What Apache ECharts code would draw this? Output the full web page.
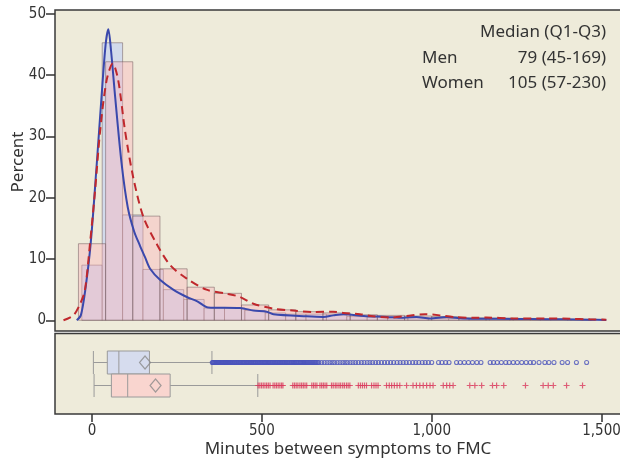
<!DOCTYPE html>
<html>
<head>
<meta charset="utf-8">
<script src="https://cdn.jsdelivr.net/npm/echarts@6/dist/echarts.min.js"></script>
<style>
  html, body { margin: 0; padding: 0; background: #fff; }
  #root { width: 620px; height: 460px; }
</style>
</head>
<body>
<div id="root"></div>
<script>
// histogram bins (minutes) and percent per bin
const menBinStart = -30
const menBinWidth = 60
const menPct = [9.0, 45.3, 17.2, 8.3, 5.0, 3.4, 2.0, 2.0, 1.6, 1.2, 1.0, 1.0, 0.9, 0.6, 0.5, 0.4, 0.4, 0.3, 0.3, 0.2, 0.2, 0.2, 0.1, 0.1, 0.1]
const womenBinStart = -40
const womenBinWidth = 80
const womenPct = [12.5, 42.2, 17.0, 8.4, 5.4, 4.4, 2.5, 1.7, 1.4, 1.2, 0.9, 0.8, 0.7, 0.6, 0.4, 0.35, 0.3, 0.2, 0.15]

// density curves: [minutes, percent]
const menCurve = [[-45, 0], [-33, 0.8], [-20, 4.9], [-4, 12.5], [14, 25.6], [28, 36.5], [40, 45], [48, 47.5], [56, 44], [68, 36.5], [87, 25.6], [105, 18.5], [124, 14.5], [141, 12.2], [156, 10.3], [171, 8.4], [200, 6.6], [239, 5.0], [279, 3.8], [310, 3.1], [342, 2.1], [436, 2.0], [475, 1.6], [514, 1.4], [534, 1.0], [632, 0.65], [681, 0.55], [710, 0.8], [740, 1.0], [800, 0.7], [867, 0.55], [916, 0.4], [955, 0.55], [995, 0.3], [1044, 0.55], [1092, 0.3], [1191, 0.25], [1289, 0.2], [1387, 0.15], [1465, 0.1], [1514, 0.05]]
const womenCurve = [[-84, 0], [-55, 0.8], [-35, 2.7], [-21, 4.9], [-6, 12.5], [9, 21.2], [24, 31], [43, 39.2], [61, 41.9], [77, 39.2], [97, 31], [121, 23.4], [151, 16.9], [190, 12.5], [230, 9.0], [279, 6.8], [337, 5.0], [396, 4.35], [436, 3.8], [475, 2.7], [534, 1.9], [592, 1.6], [651, 1.35], [710, 1.4], [740, 1.2], [789, 1.0], [828, 0.65], [877, 0.45], [926, 0.7], [980, 1.0], [1024, 0.8], [1063, 0.55], [1122, 0.4], [1161, 0.45], [1240, 0.3], [1338, 0.3], [1407, 0.25], [1465, 0.15], [1514, 0.1]]

// box plots: [min, Q1, median, Q3, max] and means
const groups = ['Men', 'Women']
const boxStats = [[4, 45, 79, 169, 353], [6, 57, 105, 230, 488]]
const means = [156, 187]
const menOutliers = [354, 356, 357, 359, 361, 362, 364, 366, 368, 370, 372, 373, 375, 377, 379, 381, 383, 385, 386, 388, 390, 392, 393, 395, 397, 399, 401, 403, 404, 406, 408, 410, 413, 415, 418, 420, 422, 425, 427, 429, 431, 434, 436, 438, 441, 443, 446, 448, 450, 453, 455, 457, 460, 462, 464, 467, 469, 471, 474, 476, 479, 481, 483, 486, 488, 491, 493, 496, 498, 501, 503, 506, 508, 510, 512, 515, 517, 520, 522, 525, 527, 530, 532, 535, 537, 540, 542, 545, 547, 550, 552, 555, 557, 560, 562, 565, 567, 570, 572, 575, 577, 580, 583, 586, 588, 591, 593, 596, 598, 601, 603, 606, 609, 612, 614, 617, 620, 623, 625, 628, 631, 634, 637, 640, 643, 646, 649, 652, 655, 658, 661, 665, 668,
  676, 684, 692, 700, 707, 714, 722, 730, 738, 745, 752, 760, 768, 776, 784, 793, 801, 810, 818, 826, 835, 843, 852, 861, 870, 879, 888, 898, 907, 916, 925, 934, 944, 953, 962, 972, 981, 990, 1000, 1020, 1030, 1041, 1051, 1073, 1084, 1096, 1108, 1120, 1133, 1145,
  1172, 1182, 1193, 1205, 1218, 1228, 1240, 1252, 1265, 1278, 1290, 1300, 1316, 1333, 1345, 1360, 1384, 1400, 1426, 1456]
const womenOutliers = [489, 494, 499, 504, 509, 514, 519, 524, 533, 538, 543, 548, 553, 558, 562, 591, 596, 601, 606, 612, 617, 622, 627, 632, 647, 652, 657, 662, 671, 676, 681, 686, 691,
  705, 710, 716, 721, 727, 732, 738, 743, 749, 754, 759, 784, 790, 796, 802, 808, 823, 830, 836, 842, 867, 875, 882, 890, 898, 906, 926, 945, 955, 965, 975, 985, 995, 1004,
  1034, 1044, 1053, 1063, 1112, 1127, 1147, 1179, 1191, 1212, 1276, 1328, 1343, 1358, 1397, 1444]

const xTicks = [0, 500, 1000, 1500]
const yTicks = [0, 10, 20, 30, 40, 50]

const tickFont = "'Liberation Sans Narrow', 'DejaVu Sans Condensed', sans-serif"
const textFont = "'Noto Sans', 'Liberation Sans', sans-serif"
const bg = '#eeebda'
const xMin = -109
const xMax = 1569

function bins (start, width, pct) {
  return pct.map((p, i) => [start + i * width, start + (i + 1) * width, p])
}

function barSeries (data, fill) {
  return {
    type: 'custom',
    xAxisIndex: 0,
    yAxisIndex: 0,
    data: data,
    encode: { x: [0, 1], y: 2 },
    clip: true,
    silent: true,
    renderItem: function (params, api) {
      const p0 = api.coord([api.value(0), 0])
      const p1 = api.coord([api.value(1), api.value(2)])
      return {
        type: 'rect',
        shape: { x: p0[0], y: p1[1], width: p1[0] - p0[0], height: p0[1] - p1[1] },
        style: { fill: fill, stroke: 'rgba(110,85,90,0.5)', lineWidth: 1 }
      }
    }
  }
}

const chart = echarts.init(document.getElementById('root'))

const hiddenX = { type: 'value', min: xMin, max: xMax, show: false }
const gridBase = { left: 55, width: 570, outerBoundsMode: 'none', containLabel: false }

const option = {
  animation: false,
  backgroundColor: '#fff',
  grid: [
    Object.assign({ top: 10, height: 321, show: true, backgroundColor: bg, borderColor: '#3a3a3a', borderWidth: 1.5 }, gridBase),
    Object.assign({ top: 333.5, height: 80.5, show: true, backgroundColor: bg, borderColor: '#3a3a3a', borderWidth: 1.5 }, gridBase),
    Object.assign({ top: 351, height: 46, show: false }, gridBase)
  ],
  xAxis: [
    Object.assign({ gridIndex: 0 }, hiddenX),
    {
      gridIndex: 1,
      type: 'value',
      min: xMin,
      max: xMax,
      splitLine: { show: false },
      axisLine: { show: false, onZero: false },
      axisTick: { show: true, length: 8, customValues: xTicks, lineStyle: { color: '#333', width: 1.5 } },
      axisLabel: {
        customValues: xTicks,
        margin: 10,
        color: '#333',
        fontSize: 15,
        fontFamily: tickFont,
        formatter: v => v.toLocaleString('en-US')
      }
    },
    Object.assign({ gridIndex: 2 }, hiddenX)
  ],
  yAxis: [
    {
      gridIndex: 0,
      type: 'value',
      min: -1.75,
      max: 50.65,
      splitLine: { show: false },
      axisLine: { show: false, onZero: false },
      axisTick: { show: true, length: 9, customValues: yTicks, lineStyle: { color: '#333', width: 1.5 } },
      axisLabel: { customValues: yTicks, margin: 9, color: '#333', fontSize: 15, fontFamily: tickFont }
    },
    { gridIndex: 1, type: 'value', min: 0, max: 1, show: false },
    { gridIndex: 2, type: 'category', data: groups, inverse: true, show: false }
  ],
  graphic: [
    { type: 'text', x: 18, y: 162, rotation: Math.PI / 2, style: { text: 'Percent', font: '17px ' + textFont, fill: '#333', align: 'center', verticalAlign: 'middle' } },
    { type: 'text', x: 348, y: 449, style: { text: 'Minutes between symptoms to FMC', font: '17px ' + textFont, fill: '#333', align: 'center', verticalAlign: 'middle' } },
    { type: 'text', x: 606, y: 32, style: { text: 'Median (Q1-Q3)', font: '17px ' + textFont, fill: '#333', align: 'right', verticalAlign: 'middle' } },
    { type: 'text', x: 422, y: 58, style: { text: 'Men', font: '17px ' + textFont, fill: '#333', align: 'left', verticalAlign: 'middle' } },
    { type: 'text', x: 606, y: 58, style: { text: '79 (45-169)', font: '17px ' + textFont, fill: '#333', align: 'right', verticalAlign: 'middle' } },
    { type: 'text', x: 422, y: 83, style: { text: 'Women', font: '17px ' + textFont, fill: '#333', align: 'left', verticalAlign: 'middle' } },
    { type: 'text', x: 606, y: 83, style: { text: '105 (57-230)', font: '17px ' + textFont, fill: '#333', align: 'right', verticalAlign: 'middle' } }
  ],
  series: [
    barSeries(bins(menBinStart, menBinWidth, menPct), 'rgba(200,212,240,0.75)'),
    barSeries(bins(womenBinStart, womenBinWidth, womenPct), 'rgba(255,175,185,0.38)'),
    {
      type: 'line',
      xAxisIndex: 0,
      yAxisIndex: 0,
      data: menCurve,
      smooth: 0.3,
      showSymbol: false,
      lineStyle: { color: '#3a48ac', width: 2 },
      silent: true
    },
    {
      type: 'line',
      xAxisIndex: 0,
      yAxisIndex: 0,
      data: womenCurve,
      smooth: 0.3,
      showSymbol: false,
      lineStyle: { color: '#c0282d', width: 2, type: [8, 5] },
      silent: true
    },
    {
      type: 'boxplot',
      xAxisIndex: 2,
      yAxisIndex: 2,
      boxWidth: [23, 23],
      silent: true,
      data: [
        { value: boxStats[0], itemStyle: { color: '#d6dcee', borderColor: '#9a9a9a', borderWidth: 1 } },
        { value: boxStats[1], itemStyle: { color: '#f9d5cf', borderColor: '#9a9a9a', borderWidth: 1 } }
      ]
    },
    {
      type: 'scatter',
      xAxisIndex: 2,
      yAxisIndex: 2,
      symbol: 'circle',
      symbolSize: 4,
      itemStyle: { color: 'transparent', borderColor: '#4b54bc', borderWidth: 1.1 },
      data: menOutliers.map(v => [v, 0]),
      silent: true
    },
    {
      type: 'scatter',
      xAxisIndex: 2,
      yAxisIndex: 2,
      symbol: 'path://M4,0H6V4H10V6H6V10H4V6H0V4H4Z',
      symbolSize: 6,
      itemStyle: { color: '#d93a5c' },
      data: womenOutliers.map(v => [v, 1]),
      silent: true
    },
    {
      type: 'scatter',
      xAxisIndex: 2,
      yAxisIndex: 2,
      symbol: 'diamond',
      symbolSize: [11, 13],
      itemStyle: { color: 'transparent', borderColor: '#8a8a8a', borderWidth: 1.2 },
      data: means.map((v, i) => [v, i]),
      silent: true,
      z: 5
    }
  ]
}

chart.setOption(option)
</script>
</body>
</html>
